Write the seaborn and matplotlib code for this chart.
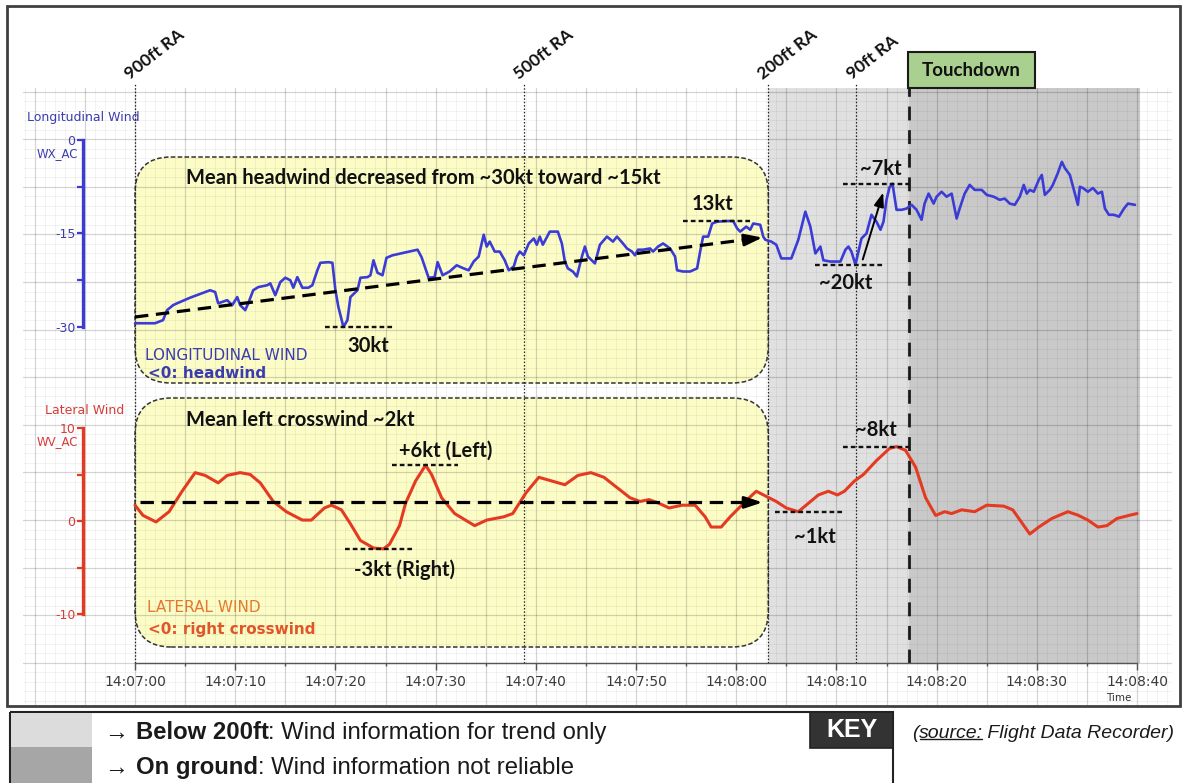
import matplotlib
matplotlib.use("Agg")
import matplotlib.pyplot as plt
import seaborn as sns
import pandas as pd
from matplotlib.patches import FancyBboxPatch, Rectangle
from matplotlib.lines import Line2D
from matplotlib.ticker import FixedLocator, MultipleLocator, NullLocator

# ---------------------------------------------------------------------------
# Flight data (time in seconds after 14:07:00)
# ---------------------------------------------------------------------------
long_time = [
    0.0, 2.0, 2.8, 3.2, 3.8, 4.2, 5.5, 7.5, 8.0, 8.3, 9.2, 9.7, 10.2, 10.5, 11.0,
    11.3, 11.8, 12.3, 13.2, 13.5, 14.0, 14.5, 15.0, 15.5, 15.8, 16.2, 16.7, 17.3,
    17.7, 18.2, 18.5, 19.3, 19.7, 20.0, 20.3, 20.8, 21.2, 21.5, 22.2, 22.5, 23.2,
    23.5, 23.8, 24.2, 24.7, 25.1, 25.7, 27.1, 28.2, 28.6, 29.3, 29.9, 30.2, 30.7,
    31.4, 32.1, 32.8, 33.3, 33.8, 34.3, 34.8, 35.1, 35.4, 35.9, 36.4, 36.9, 37.3,
    37.8, 38.1, 38.4, 38.8, 39.3, 39.8, 40.1, 40.4, 40.7, 41.4, 42.2, 42.6, 42.9,
    43.2, 43.7, 44.1, 44.6, 44.9, 45.2, 45.9, 46.4, 47.1, 47.7, 48.1, 48.7, 49.1,
    49.6, 49.9, 50.2, 50.7, 51.4, 51.7, 52.2, 52.7, 53.4, 53.9, 54.1, 54.7, 55.4,
    56.1, 56.4, 56.7, 57.2, 57.6, 58.1, 59.1, 59.7, 60.1, 60.4, 61.0, 61.4, 61.7,
    62.4, 62.7,
    62.9, 63.5, 64.0, 64.5, 65.5, 66.2, 66.9, 67.4, 67.9, 68.4, 68.7, 69.4, 70.4,
    70.9, 71.2, 71.5, 71.9, 72.2, 72.5, 73.0, 73.5, 74.0, 74.4, 74.7, 75.0, 75.3,
    75.6, 75.8, 76.0, 76.5, 77.0, 77.5, 78.0, 78.5, 78.8, 79.2, 79.7, 80.0, 80.5,
    81.0, 81.5, 82.0, 82.3, 82.8, 83.3, 83.8, 84.5, 85.0, 85.7, 86.3, 86.8, 87.3,
    87.8, 88.3, 88.7, 89.0, 89.3, 89.7, 90.2, 90.5, 90.8, 91.3, 91.6, 92.1, 92.5,
    92.8, 93.3, 93.8, 94.1, 94.3, 94.6, 95.1, 95.6, 96.1, 96.5, 96.8, 97.2, 97.7,
    98.2, 98.7, 99.1, 99.8,
]
long_wind = [
    -29.4, -29.4, -28.9, -27.3, -26.5, -26.2, -25.3, -24.1, -24.4, -26.2, -25.7,
    -26.5, -25.2, -26.5, -27.3, -26.2, -24.1, -23.6, -23.3, -23.0, -24.9, -22.8,
    -22.1, -22.5, -23.7, -22.0, -23.7, -23.7, -23.3, -20.9, -19.7, -19.6, -19.7,
    -24.1, -26.8, -30.0, -28.9, -25.2, -24.1, -22.1, -22.0, -21.7, -19.3, -21.3,
    -21.7, -18.9, -18.5, -18.0, -17.6, -18.8, -22.1, -22.0, -19.6, -21.7,
    -21.1, -20.1, -20.6, -20.9, -19.5, -18.7, -15.2, -17.1, -16.3, -17.9, -17.9,
    -19.3, -20.9, -20.3, -18.7, -17.9, -18.5, -16.6, -15.8, -16.8, -15.5, -16.8,
    -14.7, -14.7, -16.6, -19.5, -20.6, -21.1, -21.9, -18.7, -17.1, -18.7, -19.8,
    -16.8, -15.5, -16.3, -15.5, -16.6, -17.4, -17.9, -18.5, -17.6, -17.6, -17.4,
    -17.9, -17.1, -16.6, -17.4, -18.7, -20.9, -21.1, -21.1, -20.6, -17.9, -15.5,
    -15.5, -13.4, -13.1, -13.0, -13.0, -14.2, -14.7, -13.9, -14.4, -13.4, -13.6,
    -15.5,
    -16.0, -16.3, -16.8, -19.0, -19.0, -16.0, -11.5, -13.9, -18.2, -17.1, -19.3,
    -19.5, -19.5, -17.6, -17.1, -17.9, -20.0, -17.9, -15.8, -15.0, -12.0, -13.1,
    -14.4, -13.1, -9.6, -7.6, -7.0, -9.1, -11.2, -11.2, -11.0, -10.4, -11.2,
    -12.8, -10.2, -8.6, -10.2, -9.1, -8.3, -9.1, -8.6, -12.6, -11.0, -8.6, -7.2,
    -8.0, -8.0, -8.8, -9.1, -9.6, -9.4, -10.2, -10.4, -9.1, -7.2, -8.6, -8.0,
    -8.3, -6.4, -5.6, -8.8, -8.0, -7.2, -5.3, -3.5, -4.5, -5.6, -8.6, -10.4,
    -7.5, -7.7, -8.3, -7.7, -8.6, -8.3, -11.0, -12.0, -12.0, -12.3, -11.0, -10.2,
    -10.4,
]

lat_time = [
    0.0, 0.8, 2.1, 3.4, 4.7, 6.0, 7.0, 8.3, 9.2, 10.5, 11.5, 12.5, 13.8, 15.1,
    16.7, 17.6, 18.9, 19.6, 20.6, 21.5, 22.5, 23.8, 24.8, 25.4, 26.4, 27.0, 28.0,
    29.0, 29.6, 30.6, 31.9, 33.9, 35.1, 36.8, 37.7, 39.0, 40.3, 41.6, 42.9, 44.2,
    45.5, 46.8, 48.1, 49.4, 50.4, 51.3, 52.3, 53.3, 54.6, 55.9, 56.9, 57.5, 58.5,
    59.4, 61.1, 62.0, 63.0, 64.0, 65.0, 66.2, 67.2, 68.2, 69.2, 70.1, 70.8, 71.8,
    72.7, 74.0, 75.3, 76.0, 76.9, 77.9, 78.9, 79.9, 80.8, 81.5, 82.5, 83.8, 85.0,
    86.7, 87.6, 89.3, 90.2, 91.5, 93.1, 94.1, 95.1, 96.1, 97.0, 98.0, 99.3, 100.0,
]
lat_wind = [
    1.7, 0.6, -0.1, 1.0, 3.2, 5.2, 4.9, 4.1, 4.9, 5.2, 5.0, 4.1, 2.1, 1.0,
    0.1, 0.1, 1.4, 1.7, 1.2, -0.3, -2.1, -2.9, -3.0, -2.5, -0.5, 1.9, 4.3,
    6.0, 5.0, 2.5, 0.8, -0.5, 0.1, 0.45, 0.8, 3.0, 4.7, 4.3, 3.9, 4.9,
    5.2, 4.7, 3.6, 2.5, 2.1, 2.3, 1.9, 1.4, 1.7, 1.7, 0.45, -0.65, -0.65,
    0.45, 2.3, 3.2, 2.65, 2.1, 1.4, 1.0, 1.9, 2.8, 3.2, 2.8, 3.2, 4.3,
    5.0, 6.5, 7.8, 8.0, 7.6, 5.8, 2.5, 0.6, 1.0, 0.8, 1.2, 1.0, 1.7,
    1.6, 1.2, -1.4, -0.65, 0.27, 1.0, 0.63, 0.1, -0.65, -0.5, 0.27, 0.63, 0.8,
]

time_ticks = [0, 10, 20, 30, 40, 50, 60, 70, 80, 90, 100]
time_minor_ticks = [5, 15, 25, 35, 45, 55, 65, 75, 85, 95]
time_labels = ["14:07:00", "14:07:10", "14:07:20", "14:07:30", "14:07:40",
               "14:07:50", "14:08:00", "14:08:10", "14:08:20", "14:08:30",
               "14:08:40"]

event_names = ["900ft RA", "500ft RA", "200ft RA", "90ft RA"]
event_times = [0.0, 38.8, 63.2, 72.0]
touchdown_time = 77.2
record_end = 100.3

long_ticks = [-30, -15, 0]
lat_ticks = [-10, 0, 10]

# mean trends
long_trend_time = [0.0, 62.9]
long_trend_wind = [-28.4, -15.6]
lat_trend_time = [0.5, 62.9]
lat_trend_wind = [2.0, 2.0]

# ---------------------------------------------------------------------------
# Style
# ---------------------------------------------------------------------------
sns.set_theme(style="white")
plt.rcParams["font.family"] = ["DejaVu Sans"]
plt.rcParams["axes.unicode_minus"] = False

BLUE = "#3b3bd6"
BLUE_TXT = "#3c3cae"
RED = "#e43a22"
RED_TXT = "#d83a3a"
ORANGE_TXT = "#e5782f"
BOLD_FONT = ["Lato", "DejaVu Sans"]
ARIAL = ["Liberation Sans", "DejaVu Sans"]
SMALL = ["DejaVu Sans"]

W, H = 1184, 783
PX_PER_S = 10.02
T0_PX = 135.0
L_PX, R_PX, T_PX, B_PX = 23, 1172, 88, 705

fig = plt.figure(figsize=(W / 100, H / 100), dpi=100)
fig.patch.set_facecolor("white")
rect = [L_PX / W, 1 - B_PX / H, (R_PX - L_PX) / W, (B_PX - T_PX) / H]
xlim = ((L_PX - T0_PX) / PX_PER_S, (R_PX - T0_PX) / PX_PER_S)

# background grid axes: one grid unit = 47.6 px, 0 on the lateral-wind zero line
GRID_PX = 47.6
GRID_ZERO = 520.0


def gy(py):
    return (GRID_ZERO - py) / GRID_PX


ax_bg = fig.add_axes(rect, zorder=0)
ax_bg.set_xlim(*xlim)
ax_bg.set_ylim(gy(B_PX), gy(T_PX))
ax_bg.xaxis.set_major_locator(MultipleLocator(5))
ax_bg.xaxis.set_minor_locator(MultipleLocator(1))
ax_bg.yaxis.set_major_locator(MultipleLocator(1))
ax_bg.yaxis.set_minor_locator(MultipleLocator(0.2))
ax_bg.tick_params(which="both", length=0, labelbottom=False, labelleft=False)
ax_bg.set_axisbelow(False)
ax_bg.grid(which="major", color="black", alpha=0.17, lw=0.9)
ax_bg.grid(which="minor", color="black", alpha=0.055, lw=0.6)
for s in ax_bg.spines.values():
    s.set_visible(False)

axis_frac = (B_PX - 663) / (B_PX - T_PX)
ax_bg.axvspan(event_times[2], touchdown_time, ymin=axis_frac, ymax=1,
              color="#e0e0e0", lw=0, zorder=0.5)
ax_bg.axvspan(touchdown_time, record_end, ymin=axis_frac, ymax=1,
              color="#c9c9c9", lw=0, zorder=0.5)

# rounded annotation panels
aspect = PX_PER_S / GRID_PX
for top_px, bot_px in [(157, 383), (398, 647)]:
    y0, y1 = gy(bot_px), gy(top_px)
    box_kw = dict(boxstyle="round,pad=0,rounding_size=3.6", mutation_aspect=aspect)
    ax_bg.add_patch(FancyBboxPatch((0, y0), event_times[2], y1 - y0, fc="#fbfb90",
                                   alpha=0.5, ec="none", zorder=0.8, **box_kw))
    ax_bg.add_patch(FancyBboxPatch((0, y0), event_times[2], y1 - y0, fill=False,
                                   ec="#333333", lw=1.1, ls=(0, (3, 1.5)),
                                   zorder=3, **box_kw))

# altitude markers
for name, t in zip(event_names, event_times):
    ax_bg.vlines(t, gy(663), gy(84), color="#222222", lw=0.9,
                 linestyles=(0, (1.2, 1.5)), clip_on=False, zorder=3)
    ax_bg.text(t - 0.3, gy(82), name, rotation=38, rotation_mode="anchor",
               ha="left", va="bottom", fontsize=12.5, fontweight="bold",
               family=BOLD_FONT, color="#111111")
ax_bg.vlines(touchdown_time, gy(663), gy(T_PX), color="#1a1a1a", lw=2.0,
             linestyles=(0, (5, 3.5)), zorder=3)

# ---------------------------------------------------------------------------
# Longitudinal wind panel
# ---------------------------------------------------------------------------
ax_top = fig.add_axes(rect, zorder=1)
ax_top.patch.set_alpha(0)
ax_top.set_xlim(*xlim)
ax_top.set_ylim(-(B_PX - 140) / 6.233, (140 - T_PX) / 6.233)
df_long = pd.DataFrame({"time": long_time, "wind": long_wind})
sns.lineplot(data=df_long, x="time", y="wind", ax=ax_top, color=BLUE, lw=1.9,
             estimator=None, sort=False, zorder=5)

for s in ["top", "right", "bottom"]:
    ax_top.spines[s].set_visible(False)
ax_top.spines["left"].set_position(("data", -5.2))
ax_top.spines["left"].set_bounds(long_ticks[0], long_ticks[-1])
ax_top.spines["left"].set_color(BLUE)
ax_top.spines["left"].set_linewidth(2.4)
ax_top.yaxis.set_major_locator(FixedLocator(long_ticks))
ax_top.yaxis.set_minor_locator(FixedLocator([-22.5, -7.5]))
ax_top.tick_params(axis="y", which="both", direction="out", length=4, width=1.6,
                   color=BLUE, labelcolor=BLUE_TXT, labelsize=9, pad=1.5,
                   left=True)
ax_top.xaxis.set_major_locator(NullLocator())
ax_top.set_xlabel("")
ax_top.set_ylabel("")

ax_top.plot([long_trend_time[0], long_trend_time[1] - 0.8],
            [long_trend_wind[0], long_trend_wind[1] - 0.16],
            color="black", lw=2.3, ls=(0, (4.2, 2.4)), zorder=6)
ax_top.annotate("", xy=(long_trend_time[1], long_trend_wind[1]),
                xytext=(long_trend_time[1] - 2.2, long_trend_wind[1] - 0.45),
                arrowprops=dict(arrowstyle="-|>,head_length=0.9,head_width=0.3",
                                color="black", lw=2.0), zorder=6)

mark_kw = dict(color="#111111", lw=1.7, ls=(0, (2.0, 1.3)), zorder=6)
lbl_kw = dict(ha="center", va="center", fontsize=14.5, fontweight="bold",
              family=BOLD_FONT, color="#111111", zorder=7)
ax_top.plot([19.0, 25.9], [-30, -30], **mark_kw)
ax_top.text(23.3, -33.0, "30kt", **lbl_kw)
ax_top.plot([54.7, 61.4], [-13, -13], **mark_kw)
ax_top.text(57.6, -10.2, "13kt", **lbl_kw)
ax_top.plot([67.9, 74.9], [-20, -20], **mark_kw)
ax_top.text(70.9, -23.0, "~20kt", **lbl_kw)
ax_top.plot([70.7, touchdown_time], [-7, -7], **mark_kw)
ax_top.text(74.4, -4.6, "~7kt", **lbl_kw)
ax_top.annotate("", xy=(74.75, -8.0), xytext=(72.55, -19.6),
                arrowprops=dict(arrowstyle="-|>,head_length=0.7,head_width=0.25",
                                color="black", lw=1.4), zorder=7)

ax_top.text(5.1, -6.1, "Mean headwind decreased from ~30kt toward ~15kt",
            ha="left", va="center", fontsize=14.5, fontweight="bold",
            family=BOLD_FONT, color="#111111")
ax_top.text(1.0, -34.5, "LONGITUDINAL WIND", ha="left", va="center",
            fontsize=11, family=SMALL, color=BLUE_TXT)
ax_top.text(1.3, -37.5, "<0: headwind", ha="left", va="center", fontsize=11,
            fontweight="bold", family=SMALL, color=BLUE_TXT)

# ---------------------------------------------------------------------------
# Lateral wind panel
# ---------------------------------------------------------------------------
ax_bot = fig.add_axes(rect, zorder=2)
ax_bot.patch.set_alpha(0)
ax_bot.set_xlim(*xlim)
ax_bot.set_ylim((521 - B_PX) / 9.3, (521 - T_PX) / 9.3)
df_lat = pd.DataFrame({"time": lat_time, "wind": lat_wind})
sns.lineplot(data=df_lat, x="time", y="wind", ax=ax_bot, color=RED, lw=2.2,
             estimator=None, sort=False, zorder=5)

for s in ["top", "right"]:
    ax_bot.spines[s].set_visible(False)
ax_bot.spines["left"].set_position(("data", -5.2))
ax_bot.spines["left"].set_bounds(lat_ticks[0], lat_ticks[-1])
ax_bot.spines["left"].set_color(RED)
ax_bot.spines["left"].set_linewidth(2.4)
ax_bot.yaxis.set_major_locator(FixedLocator(lat_ticks))
ax_bot.yaxis.set_minor_locator(FixedLocator([-5, 5]))
ax_bot.tick_params(axis="y", which="both", direction="out", length=4, width=1.6,
                   color=RED, labelcolor=RED_TXT, labelsize=9, pad=1.5,
                   left=True)

ax_bot.spines["bottom"].set_position(("data", (521 - 663) / 9.3))
ax_bot.spines["bottom"].set_bounds(time_ticks[0], time_ticks[-1])
ax_bot.spines["bottom"].set_color("#555555")
ax_bot.spines["bottom"].set_linewidth(1.0)
ax_bot.xaxis.set_major_locator(FixedLocator(time_ticks))
ax_bot.xaxis.set_minor_locator(FixedLocator(time_minor_ticks))
ax_bot.set_xticklabels(time_labels)
ax_bot.tick_params(axis="x", which="major", direction="out", length=5, width=1.0,
                   color="#555555", labelcolor="#3a3a3a", labelsize=10, pad=4,
                   bottom=True)
ax_bot.tick_params(axis="x", which="minor", direction="out", length=2.5,
                   width=1.0, color="#555555", bottom=True)
ax_bot.set_xlabel("")
ax_bot.set_ylabel("")

ax_bot.plot([lat_trend_time[0], lat_trend_time[1] - 0.8], lat_trend_wind,
            color="black", lw=2.3, ls=(0, (4.2, 2.4)), zorder=6)
ax_bot.annotate("", xy=(lat_trend_time[1], lat_trend_wind[1]),
                xytext=(lat_trend_time[1] - 2.2, lat_trend_wind[1]),
                arrowprops=dict(arrowstyle="-|>,head_length=0.9,head_width=0.3",
                                color="black", lw=2.0), zorder=6)

ax_bot.plot([25.6, 32.2], [6, 6], **mark_kw)
ax_bot.text(31.0, 7.6, "+6kt (Left)", **lbl_kw)
ax_bot.plot([21.0, 27.7], [-3, -3], **mark_kw)
ax_bot.text(26.9, -5.2, "-3kt (Right)", **lbl_kw)
ax_bot.plot([63.9, 70.9], [1, 1], **mark_kw)
ax_bot.text(67.9, -1.7, "~1kt", **lbl_kw)
ax_bot.plot([70.7, touchdown_time], [8, 8], **mark_kw)
ax_bot.text(73.9, 9.8, "~8kt", **lbl_kw)

ax_bot.text(5.1, 10.86, "Mean left crosswind ~2kt", ha="left", va="center",
            fontsize=14.5, fontweight="bold", family=BOLD_FONT, color="#111111")
ax_bot.text(1.2, -9.35, "LATERAL WIND", ha="left", va="center", fontsize=11,
            family=SMALL, color=ORANGE_TXT)
ax_bot.text(1.3, -11.7, "<0: right crosswind", ha="left", va="center",
            fontsize=11, fontweight="bold", family=SMALL, color="#e0552a")

# ---------------------------------------------------------------------------
# Frame, titles and key (pixel coordinates)
# ---------------------------------------------------------------------------
ax_px = fig.add_axes([0, 0, 1, 1], zorder=3)
ax_px.set_xlim(0, W)
ax_px.set_ylim(H, 0)
ax_px.axis("off")

ax_px.add_patch(Rectangle((7, 6), 1173, 700, fill=False, ec="#404040", lw=2.0))

ax_px.add_patch(Rectangle((908, 52), 127, 36, fc="#a9d08e", ec="#1a1a1a", lw=1.5))
ax_px.text(971.5, 70, "Touchdown", ha="center", va="center", fontsize=13.5,
           fontweight="bold", family=BOLD_FONT, color="#111111")

ax_px.text(27, 118, "Longitudinal Wind", ha="left", va="center", fontsize=9,
           family=SMALL, color=BLUE_TXT)
ax_px.text(78, 154, "WX_AC", ha="right", va="center", fontsize=8.5,
           family=SMALL, color=BLUE_TXT)
ax_px.text(124, 410, "Lateral Wind", ha="right", va="center", fontsize=9,
           family=SMALL, color=RED_TXT)
ax_px.text(78, 442, "WV_AC", ha="right", va="center", fontsize=8.5,
           family=SMALL, color=RED_TXT)
ax_px.text(1119, 698, "Time", ha="center", va="center", fontsize=7.5,
           family=SMALL, color="#333333")

# key
ax_px.add_patch(Rectangle((10, 712), 883, 90, fill=False, ec="#222222", lw=1.5,
                          clip_on=False))
ax_px.add_patch(Rectangle((11, 713), 81, 34, fc="#dcdcdc", ec="none"))
ax_px.add_patch(Rectangle((11, 747), 81, 40, fc="#a6a6a6", ec="none"))
ax_px.add_patch(Rectangle((810, 712), 83, 36, fc="#333333", ec="#222222", lw=1.2))
ax_px.text(851.5, 730, "KEY", ha="center", va="center", fontsize=18,
           fontweight="bold", family=ARIAL, color="white")


def chain_text(x, y, parts, size):
    prev = ax_px.text(x, y, parts[0][0], ha="left", va="center", fontsize=size,
                      family=ARIAL, color="#1a1a1a", **parts[0][1])
    out = [prev]
    for s, kw in parts[1:]:
        prev = ax_px.annotate(s, xy=(1, 0), xycoords=prev, ha="left", va="bottom",
                              fontsize=size, family=ARIAL, color="#1a1a1a", **kw)
        out.append(prev)
    return out


chain_text(105, 733, [("\u2192 ", {}), ("Below 200ft", {"fontweight": "bold"}),
                      (": Wind information for trend only", {})], 17.2)
chain_text(105, 768, [("\u2192 ", {}), ("On ground", {"fontweight": "bold"}),
                      (": Wind information not reliable", {})], 17.2)
src = chain_text(912, 733, [("(", {"style": "italic"}),
                            ("source:", {"style": "italic"}),
                            (" Flight Data Recorder)", {"style": "italic"})], 14)

fig.canvas.draw()
bb = src[1].get_window_extent()
fig.add_artist(Line2D([bb.x0 + 1, bb.x1 - 1], [bb.y0 + 3, bb.y0 + 3],
                      transform=None, color="#1a1a1a", lw=1.0))

fig.savefig("out.png", dpi=100, facecolor="white")
